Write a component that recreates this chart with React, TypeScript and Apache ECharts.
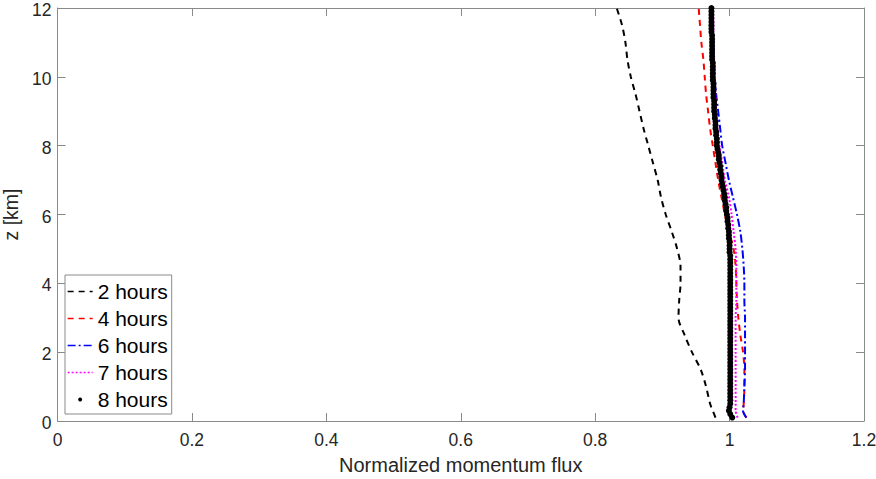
import React, { useEffect, useRef } from "react";
import * as echarts from "echarts";

// Heights (km) for the line profiles
const zLines = [0.1, 0.3, 0.5, 1, 1.5, 2, 2.5, 3, 3.5, 4, 4.5, 5, 5.5, 6, 6.5, 7, 7.5, 8, 8.5, 9, 9.5, 10, 10.5, 11, 11.5, 12];

const flux2h = [0.979, 0.975, 0.971, 0.965, 0.957, 0.944, 0.933, 0.924, 0.925, 0.927, 0.927, 0.922, 0.914, 0.905, 0.898, 0.893, 0.886, 0.879, 0.872, 0.866, 0.860, 0.853, 0.848, 0.845, 0.840, 0.832];
const flux4h = [1.025, 1.020, 1.021, 1.022, 1.022, 1.020, 1.016, 1.013, 1.011, 1.010, 1.009, 1.006, 0.999, 0.993, 0.988, 0.983, 0.979, 0.975, 0.971, 0.968, 0.965, 0.963, 0.961, 0.958, 0.956, 0.954];
const flux6h = [1.025, 1.020, 1.021, 1.022, 1.023, 1.023, 1.023, 1.023, 1.022, 1.022, 1.021, 1.019, 1.016, 1.011, 1.005, 0.999, 0.994, 0.989, 0.986, 0.983, 0.980, 0.978, 0.977, 0.976, 0.975, 0.974];
const flux7h = [1.012, 1.009, 1.009, 1.009, 1.009, 1.009, 1.009, 1.009, 1.010, 1.010, 1.010, 1.009, 1.006, 1.003, 0.999, 0.993, 0.989, 0.985, 0.982, 0.980, 0.979, 0.978, 0.977, 0.976, 0.976, 0.975];

// Heights (km) for the 8-hour dotted profile
const z8h = [
  0.1, 0.2, 0.3, 0.4, 0.5, 0.6, 0.7, 0.8, 0.9, 1.0,
  1.1, 1.2, 1.3, 1.4, 1.5, 1.6, 1.7, 1.8, 1.9, 2.0,
  2.1, 2.2, 2.3, 2.4, 2.5, 2.6, 2.7, 2.8, 2.9, 3.0,
  3.1, 3.2, 3.3, 3.4, 3.5, 3.6, 3.7, 3.8, 3.9, 4.0,
  4.1, 4.2, 4.3, 4.4, 4.5, 4.6, 4.7, 4.8, 4.9, 5.0,
  5.1, 5.2, 5.3, 5.4, 5.5, 5.6, 5.7, 5.8, 5.9, 6.0,
  6.1, 6.2, 6.3, 6.4, 6.5, 6.6, 6.7, 6.8, 6.9, 7.0,
  7.1, 7.2, 7.3, 7.4, 7.5, 7.6, 7.7, 7.8, 7.9, 8.0,
  8.1, 8.2, 8.3, 8.4, 8.5, 8.6, 8.7, 8.8, 8.9, 9.0,
  9.1, 9.2, 9.3, 9.4, 9.5, 9.6, 9.7, 9.8, 9.9, 10.0,
  10.1, 10.2, 10.3, 10.4, 10.5, 10.6, 10.7, 10.8, 10.9, 11.0,
  11.1, 11.2, 11.3, 11.4, 11.5, 11.6, 11.7, 11.8, 11.9, 12.0,
];
const flux8h = [
  1.004, 1.001, 0.999, 1.000, 1.001, 1.001, 1.001, 1.001, 1.001, 1.001,
  1.001, 1.001, 1.001, 1.001, 1.001, 1.001, 1.001, 1.001, 1.001, 1.001,
  1.001, 1.001, 1.001, 1.001, 1.001, 1.001, 1.001, 1.001, 1.001, 1.001,
  1.001, 1.001, 1.001, 1.001, 1.001, 1.001, 1.001, 1.001, 1.001, 1.001,
  1.001, 1.001, 1.001, 1.001, 1.001, 1.001, 1.001, 1.001, 1.000, 1.000,
  1.000, 1.000, 0.999, 0.999, 0.999, 0.998, 0.998, 0.997, 0.997, 0.996,
  0.995, 0.995, 0.994, 0.993, 0.993, 0.992, 0.991, 0.990, 0.989, 0.988,
  0.988, 0.987, 0.986, 0.986, 0.985, 0.984, 0.984, 0.983, 0.982, 0.981,
  0.981, 0.981, 0.980, 0.980, 0.979, 0.979, 0.979, 0.978, 0.978, 0.977,
  0.977, 0.977, 0.977, 0.976, 0.976, 0.976, 0.976, 0.976, 0.975, 0.975,
  0.975, 0.975, 0.975, 0.975, 0.974, 0.974, 0.974, 0.974, 0.974, 0.974,
  0.974, 0.974, 0.973, 0.973, 0.973, 0.973, 0.973, 0.973, 0.973, 0.973,
];

const seriesNames = ["2 hours", "4 hours", "6 hours", "7 hours", "8 hours"];
const xTicks = { min: 0, max: 1.2, interval: 0.2 };
const yTicks = { min: 0, max: 12, interval: 2 };

const FONT = "'Liberation Sans', Arial, Helvetica, sans-serif";
const AXIS_GRAY = "#8a8a8a";
const TEXT = "#262626";

const pairs = (xs: number[], zs: number[]) => xs.map((v, i) => [v, zs[i]]);

export default function App() {
  const ref = useRef<HTMLDivElement>(null);

  useEffect(() => {
    if (!ref.current) return;
    const chart = echarts.init(ref.current, null, { renderer: "svg" });

    const baseX = {
      type: "value" as const,
      min: xTicks.min,
      max: xTicks.max,
      interval: xTicks.interval,
      splitLine: { show: false },
      axisLine: { show: true, onZero: false, lineStyle: { color: AXIS_GRAY, width: 1 } },
      axisTick: { show: true, inside: true, length: 8, lineStyle: { color: AXIS_GRAY } },
    };
    const baseY = {
      type: "value" as const,
      min: yTicks.min,
      max: yTicks.max,
      interval: yTicks.interval,
      splitLine: { show: false },
      axisLine: { show: true, onZero: false, lineStyle: { color: AXIS_GRAY, width: 1 } },
      axisTick: { show: true, inside: true, length: 8, lineStyle: { color: AXIS_GRAY } },
    };

    const lineSeries = (name: string, xs: number[], color: string, dash: any, width: number) => ({
      name,
      type: "line",
      data: pairs(xs, zLines),
      symbol: "none",
      smooth: 0.3,
      color,
      lineStyle: { color, width, type: dash },
      z: 2,
    });

    chart.setOption({
      animation: false,
      backgroundColor: "#ffffff",
      grid: { left: 57.5, right: 12, top: 8, bottom: 58, containLabel: false, outerBoundsMode: "none" },
      xAxis: [
        {
          ...baseX,
          position: "bottom",
          name: "Normalized momentum flux",
          nameLocation: "middle",
          nameGap: 34,
          nameTextStyle: { fontSize: 20, color: TEXT, fontFamily: FONT },
          axisLabel: { fontSize: 17.5, color: TEXT, margin: 10, fontFamily: FONT },
        },
        { ...baseX, position: "top", axisLabel: { show: false } },
      ],
      yAxis: [
        {
          ...baseY,
          position: "left",
          name: "z [km]",
          nameLocation: "middle",
          nameGap: 30,
          nameTextStyle: { fontSize: 19.5, color: TEXT, fontFamily: FONT },
          axisLabel: {
            fontSize: 17.5,
            color: TEXT,
            margin: 6,
            fontFamily: FONT,
            verticalAlign: "top",
            lineHeight: 4,
          },
        },
        { ...baseY, position: "right", axisLabel: { show: false } },
      ],
      legend: {
        left: 65,
        top: 275,
        orient: "vertical",
        itemWidth: 25,
        itemHeight: 5,
        itemGap: 6,
        padding: [6, 4, 4, 2],
        backgroundColor: "#ffffff",
        borderColor: AXIS_GRAY,
        borderWidth: 1,
        textStyle: { fontSize: 21, color: "#000", fontFamily: FONT },
        data: [
          { name: seriesNames[0], itemStyle: { opacity: 0 }, lineStyle: { width: 1.3 } },
          { name: seriesNames[1], itemStyle: { opacity: 0 }, lineStyle: { width: 1.3 } },
          { name: seriesNames[2], itemStyle: { opacity: 0 }, lineStyle: { width: 1.3 } },
          { name: seriesNames[3], itemStyle: { opacity: 0 }, lineStyle: { width: 1.3 } },
          { name: seriesNames[4], lineStyle: { width: 0, opacity: 0 } },
        ],
      },
      series: [
        lineSeries(seriesNames[0], flux2h, "#000000", [6, 5], 2),
        lineSeries(seriesNames[1], flux4h, "#ff0000", [6, 5], 2),
        lineSeries(seriesNames[2], flux6h, "#0000ff", [8, 3, 2, 3], 2),
        lineSeries(seriesNames[3], flux7h, "#ff00ff", [2, 2], 2),
        {
          name: seriesNames[4],
          type: "line",
          data: pairs(flux8h, z8h),
          symbol: "circle",
          symbolSize: 6,
          showSymbol: true,
          color: "#000000",
          itemStyle: { color: "#000000" },
          lineStyle: { width: 0, opacity: 0 },
          z: 3,
        },
      ],
    });

    return () => chart.dispose();
  }, []);

  return (
    <div
      ref={ref}
      style={{ position: "fixed", left: 0, top: 0, width: 876, height: 479, background: "#fff" }}
    />
  );
}
